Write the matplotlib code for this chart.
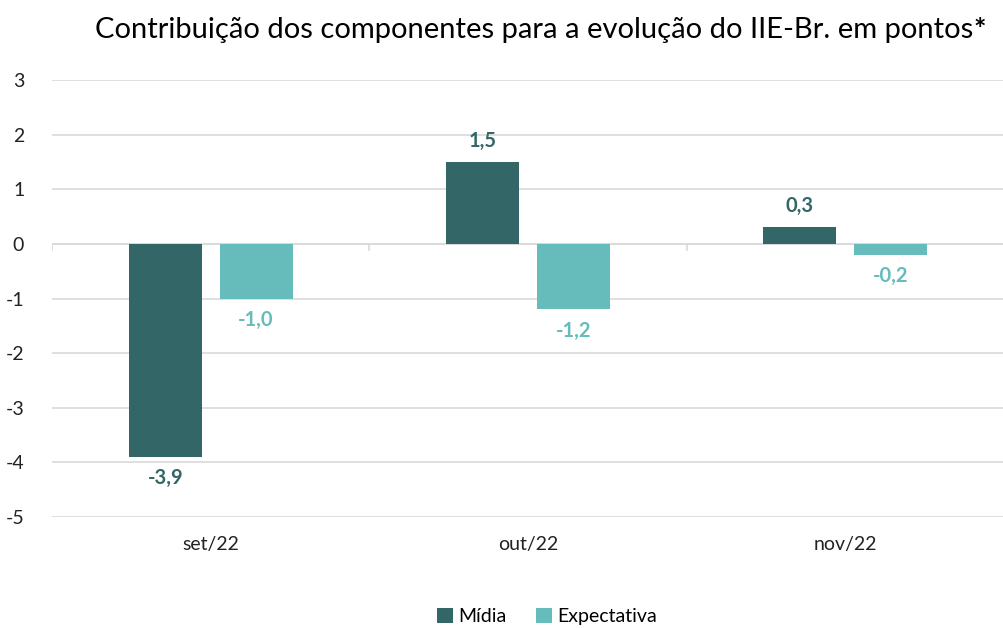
import matplotlib.pyplot as plt
import numpy as np

categorias = ['set/22', 'out/22', 'nov/22']
midia = [-3.9, 1.5, 0.3]
expectativa = [-1.0, -1.2, -0.2]
yticks = [3, 2, 1, 0, -1, -2, -3, -4, -5]

cor_midia = '#336666'
cor_expect = '#66BBBB'

plt.rcParams['font.family'] = ['Lato', 'DejaVu Sans']

fig = plt.figure(figsize=(10.04, 6.28), dpi=100)
ax = fig.add_axes([52/1004, 1-517/628, (1004-52)/1004, (517-80)/628])

x = np.arange(len(categorias))
w = 0.23
off = 0.143
ax.bar(x - off, midia, w, color=cor_midia, label='Mídia', zorder=3)
ax.bar(x + off, expectativa, w, color=cor_expect, label='Expectativa', zorder=3)

def fmt(v):
    return f'{v:.1f}'.replace('.', ',')

for i in range(len(categorias)):
    v = midia[i]
    ax.annotate(fmt(v), (x[i] - off, v), xytext=(0, 8 if v > 0 else -8),
                textcoords='offset points', ha='center',
                va='bottom' if v > 0 else 'top', color=cor_midia,
                fontsize=14.5, fontweight='bold')
    v = expectativa[i]
    ax.annotate(fmt(v), (x[i] + off, v), xytext=(0, -8),
                textcoords='offset points', ha='center', va='top',
                color=cor_expect, fontsize=14.5, fontweight='bold')

ax.set_xlim(-0.5, 2.5)
ax.set_ylim(-5, 3)
ax.set_yticks(yticks)
ax.set_yticklabels([str(t) for t in yticks], fontsize=14, color='#222222')
ax.yaxis.grid(True, color='#d9d9d9', linewidth=1.2, zorder=0)
ax.tick_params(axis='y', length=0, pad=20)
ax.set_xticks(x)
ax.set_xticklabels(categorias, fontsize=14, color='#222222')
ax.tick_params(axis='x', length=0, pad=14)
for s in ax.spines.values():
    s.set_visible(False)
ax.axhline(0, color='#d9d9d9', linewidth=1.2, zorder=1)
for b in [-0.5, 0.5, 1.5, 2.5]:
    ax.plot([b, b], [0, -0.12], color='#d9d9d9', linewidth=1.2, zorder=1)

fig.text(0.969, 0.953, 'Contribuição dos componentes para a evolução do IIE-Br. em pontos',
         ha='right', va='center', fontsize=21, color='black')
fig.text(0.970, 0.953, '*', ha='left', va='center', fontsize=21,
         fontweight='bold', color='black')

fig.legend(loc='center', bbox_to_anchor=(0.545, 0.018), ncol=2, frameon=False,
           fontsize=14, handlelength=0.8, handleheight=0.8, handletextpad=0.3,
           columnspacing=1.5)

fig.savefig('out.png', dpi=100)
